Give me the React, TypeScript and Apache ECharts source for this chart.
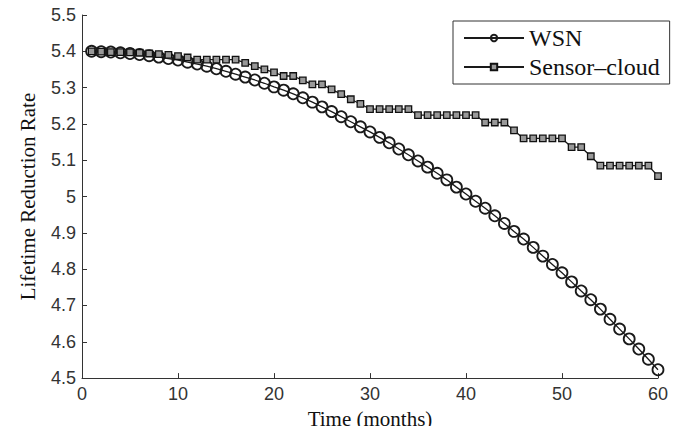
import React, { useEffect, useRef } from "react";
import * as echarts from "echarts";

const months: number[] = Array.from({ length: 60 }, (_, i) => i + 1);

const wsnValues: number[] = [
  5.400, 5.399, 5.398, 5.396, 5.394, 5.391, 5.388, 5.384, 5.380, 5.376,
  5.370, 5.365, 5.359, 5.352, 5.345, 5.337, 5.329, 5.321, 5.312, 5.302,
  5.293, 5.283, 5.272, 5.260, 5.247, 5.234, 5.220, 5.206, 5.192, 5.178,
  5.163, 5.148, 5.131, 5.115, 5.098, 5.081, 5.064, 5.046, 5.026, 5.007,
  4.987, 4.968, 4.947, 4.926, 4.904, 4.883, 4.860, 4.836, 4.813, 4.790,
  4.765, 4.740, 4.716, 4.690, 4.662, 4.635, 4.608, 4.580, 4.552, 4.523,
];

const cloudValues: number[] = [
  5.400, 5.399, 5.398, 5.398, 5.397, 5.396, 5.394, 5.392, 5.390, 5.387,
  5.383, 5.377, 5.377, 5.377, 5.377, 5.377, 5.368, 5.359, 5.350, 5.342,
  5.332, 5.332, 5.320, 5.309, 5.309, 5.295, 5.282, 5.268, 5.255, 5.241,
  5.241, 5.241, 5.241, 5.241, 5.224, 5.224, 5.224, 5.224, 5.224, 5.224,
  5.224, 5.204, 5.204, 5.204, 5.182, 5.160, 5.160, 5.160, 5.160, 5.160,
  5.136, 5.136, 5.111, 5.085, 5.085, 5.085, 5.085, 5.085, 5.085, 5.056,
];

const seriesNames: string[] = ["WSN", "Sensor–cloud"];

export default function App() {
  const ref = useRef<HTMLDivElement>(null);

  useEffect(() => {
    if (!ref.current) return;
    const chart = echarts.init(ref.current, undefined, { renderer: "svg" });
    const ink = "#1a1a1a";
    const serif = "Liberation Serif, Times New Roman, serif";
    const tickFont = { fontFamily: "Liberation Sans, Arial, sans-serif", fontSize: 18, color: "#333" };
    chart.setOption({
      animation: false,
      backgroundColor: "#fff",
      grid: { left: 82, right: 23, top: 15, bottom: 52, containLabel: false },
      legend: {
        orient: "vertical",
        left: 453,
        top: 21,
        data: seriesNames,
        itemWidth: 60,
        itemHeight: 8,
        itemGap: 5,
        padding: [5, 10, 5, 10],
        borderColor: "#333",
        borderWidth: 1,
        backgroundColor: "#fff",
        textStyle: { fontFamily: serif, fontSize: 24, color: "#111" },
      },
      xAxis: {
        type: "value",
        min: 0,
        max: 60,
        interval: 10,
        name: "Time (months)",
        nameLocation: "middle",
        nameGap: 27,
        nameTextStyle: { fontFamily: serif, fontSize: 21, color: "#111" },
        axisLine: { lineStyle: { color: "#333", width: 1 } },
        axisTick: { inside: true, length: 5, lineStyle: { color: "#333" } },
        axisLabel: { ...tickFont, margin: 7 },
        splitLine: { show: false },
      },
      yAxis: {
        type: "value",
        min: 4.5,
        max: 5.5,
        interval: 0.1,
        name: "Lifetime Reduction Rate",
        nameLocation: "middle",
        nameGap: 44,
        nameTextStyle: { fontFamily: serif, fontSize: 21, color: "#111" },
        axisLine: { show: true, lineStyle: { color: "#333", width: 1 } },
        axisTick: { show: true, inside: true, length: 5, lineStyle: { color: "#333" } },
        axisLabel: { ...tickFont, margin: 6 },
        splitLine: { show: false },
      },
      series: [
        {
          name: seriesNames[0],
          type: "line",
          data: months.map((m, i) => [m, wsnValues[i]]),
          symbol: "circle",
          symbolSize: 11,
          showAllSymbol: true,
          lineStyle: { color: ink, width: 1.3 },
          itemStyle: { color: "rgba(0,0,0,0)", borderColor: ink, borderWidth: 1.8 },
        },
        {
          name: seriesNames[1],
          type: "line",
          data: months.map((m, i) => [m, cloudValues[i]]),
          symbol: "rect",
          symbolSize: 6.5,
          showAllSymbol: true,
          lineStyle: { color: ink, width: 1.3 },
          itemStyle: { color: "#999", borderColor: "#111", borderWidth: 1.3 },
        },
      ],
    });
    return () => chart.dispose();
  }, []);

  return <div ref={ref} style={{ width: 681, height: 434, margin: -8 }} />;
}
